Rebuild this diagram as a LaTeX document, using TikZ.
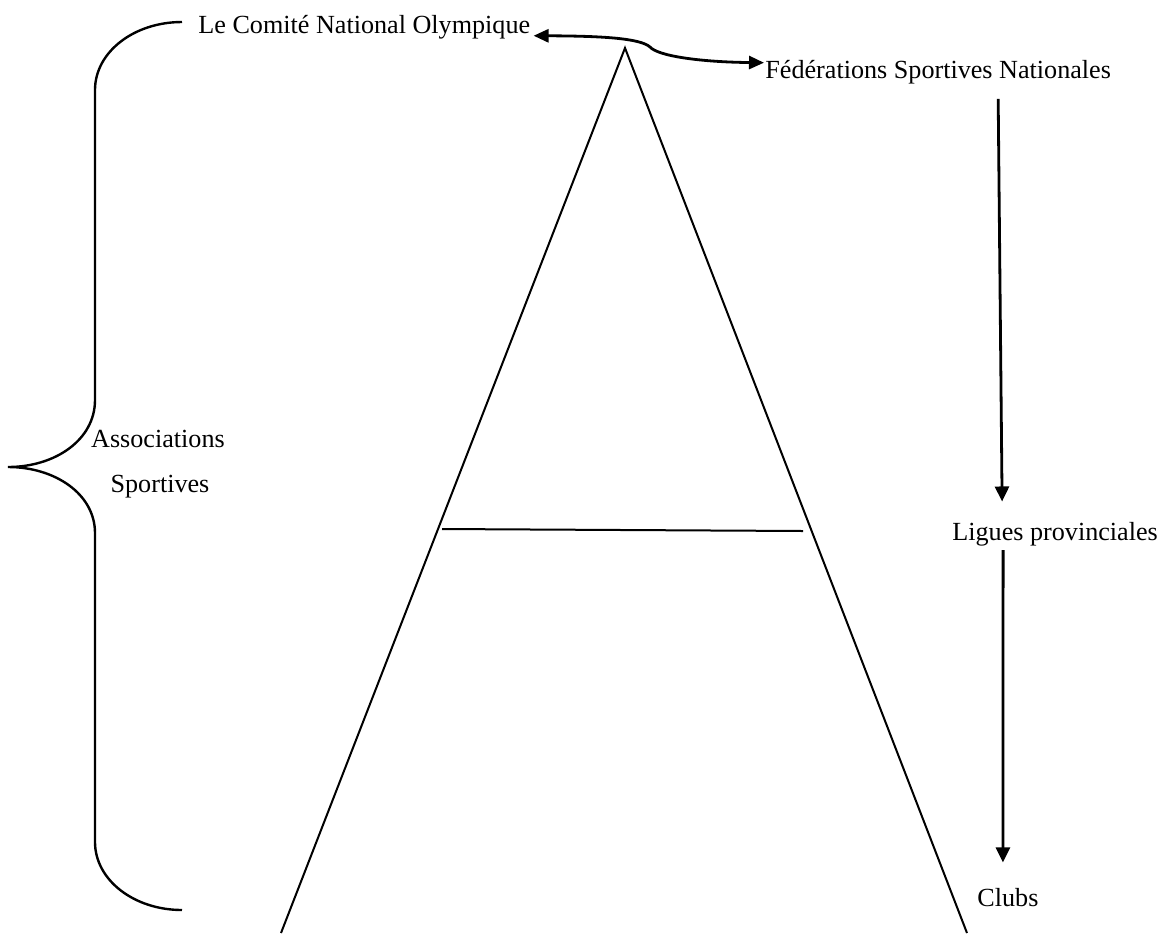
\documentclass[tikz,border=0pt]{standalone}
\usepackage{fontspec}
\setmainfont{Liberation Serif}
\usetikzlibrary{arrows.meta,calc}
\begin{document}
\begin{tikzpicture}[x=0.5pt,y=-0.5pt,
  lbl/.style={inner sep=0pt, font=\fontsize{13.07pt}{15pt}\selectfont},
  tip/.style={Triangle[length=7.5pt,width=7pt]},
  flow/.style={line width=1.4pt, -{Triangle[length=7.5pt,width=7pt]}},
  link/.style={line width=1.4pt, {Triangle[length=7.5pt,width=6.5pt]}-{Triangle[length=7.5pt,width=6.5pt]}},
  frame/.style={line width=1pt},
  bracket/.style={line width=1.2pt}]
\useasboundingbox (0,0) rectangle (1168,933);

% labels
\node[lbl, anchor=base west] (cno)   at (198,33)  {Le Comité National Olympique};
\node[lbl, anchor=base west] (fsn)   at (765,78)  {Fédérations Sportives Nationales};
\node[lbl, anchor=base west] (lp)    at (952,540) {Ligues provinciales};
\node[lbl, anchor=base west] (clubs) at (977,906) {Clubs};
\node[lbl, anchor=base] (assocA) at (158,447) {Associations};
\node[lbl, anchor=base] (assocB) at (160,492) {Sportives};

% the large A
\draw[frame] (281,933) -- (625,48) -- (967,933);
\draw[frame] (442,529) -- (803,531);

% brace grouping the associations
\draw[bracket] (182,22) .. controls (134,22) and (95,52) .. (95,90)
  -- (95,400) .. controls (95,440) and (55,467) .. (8,467)
  .. controls (55,467) and (95,494) .. (95,533)
  -- (95,842) .. controls (95,880) and (134,910) .. (182,910);

% double link between the two top bodies
\draw[link] ($(cno.east)+(3,9)$) .. controls (600,36) and (640,38) .. (650,47)
  .. controls (658,56) and (700,62) .. ($(fsn.west)+(-1,-9)$);

% hierarchy arrows
\draw[flow] ($(fsn.south)+(60,15)$) -- ($(lp.north)+(-53,-20)$);
\draw[flow] ($(lp.south)+(-52,4)$) -- ($(clubs.north)+(-5,-25)$);
\end{tikzpicture}
\end{document}
